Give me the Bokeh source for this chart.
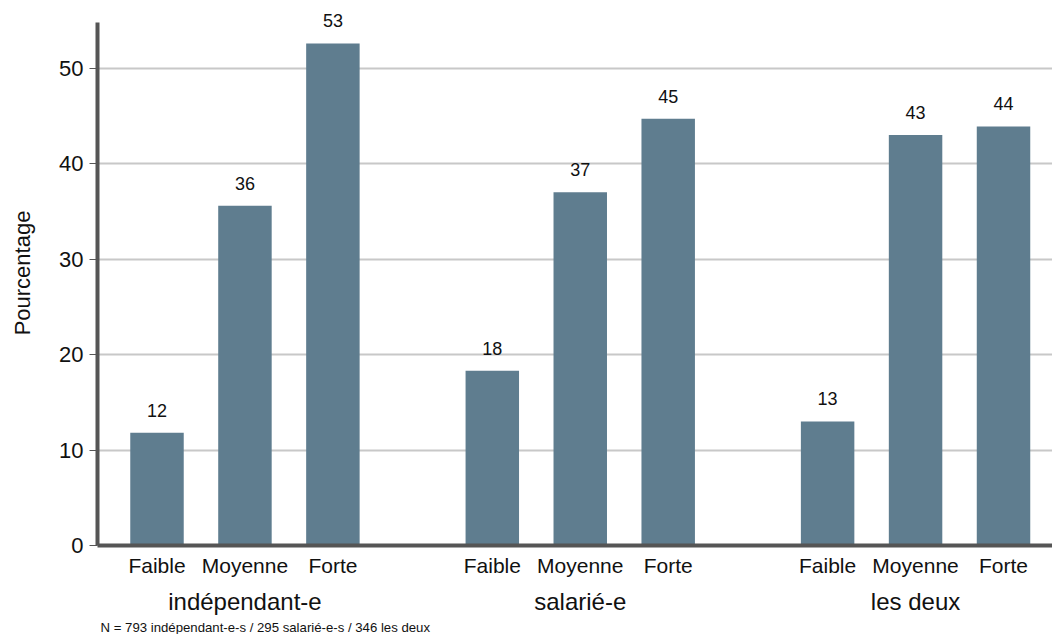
from bokeh.plotting import figure
from bokeh.models import Range1d, FixedTicker, LinearAxis, ColumnDataSource, LabelSet, Title
from bokeh.core.properties import value
from bokeh.embed import file_html
from bokeh.resources import INLINE

# Intensité (Faible / Moyenne / Forte) par statut d'activité, en pourcentage
groups = ["indépendant-e", "salarié-e", "les deux"]
levels = ["Faible", "Moyenne", "Forte"]
independant = [11.8, 35.6, 52.6]
salarie = [18.3, 37.0, 44.7]
les_deux = [13.0, 43.0, 43.9]
y_ticks = [0, 10, 20, 30, 40, 50]
y_axis_top = 54.8
note = "N = 793 indépendant-e-s / 295 salarié-e-s / 346 les deux"

FONT = "Liberation Sans"
BAR_COLOR = "#5f7d8f"
AXIS_COLOR = "#555555"
GROUP_STEP = 3.8125  # distance between the first bars of consecutive groups

series = [independant, salarie, les_deux]
xs, tops, texts = [], [], []
for gi, vals in enumerate(series):
    for li, v in enumerate(vals):
        xs.append(gi * GROUP_STEP + li)
        tops.append(v)
        texts.append(str(round(v)))
level_names = {x: levels[i % 3] for i, x in enumerate(xs)}
group_centers = [gi * GROUP_STEP + 1 for gi in range(len(groups))]
group_names = {c: g for c, g in zip(group_centers, groups)}

src = ColumnDataSource(dict(x=xs, top=tops, label=texts))

p = figure(width=1052, height=634,
           x_range=Range1d(-0.6765, 10.182), y_range=Range1d(0, 57.1),
           output_backend="svg", toolbar_location=None,
           min_border_left=97, min_border_right=0, min_border_top=0,
           min_border_bottom=87)
p.outline_line_color = None
p.background_fill_color = "white"
p.border_fill_color = "white"

p.vbar(x="x", top="top", bottom=0, width=0.608, source=src,
       fill_color=BAR_COLOR, line_color=None)

p.add_layout(LabelSet(x="x", y="top", text="label", source=src,
                      text_align="center", text_baseline="alphabetic",
                      y_offset=16, text_font=value(FONT), text_font_size="18px",
                      text_color="#111111"))

# y axis
yax = p.yaxis[0]
yax.ticker = FixedTicker(ticks=y_ticks)
yax.bounds = (0, y_axis_top)
yax.axis_line_width = 4
yax.axis_line_color = AXIS_COLOR
yax.major_tick_out = 8
yax.major_tick_in = 0
yax.major_tick_line_color = AXIS_COLOR
yax.major_tick_line_width = 1
yax.minor_tick_line_color = None
yax.major_label_standoff = 6
yax.major_label_text_font = FONT
yax.major_label_text_font_size = "22px"
yax.major_label_text_color = "#111111"
yax.axis_label = "Pourcentage"
yax.axis_label_text_font = FONT
yax.axis_label_text_font_size = "22px"
yax.axis_label_text_font_style = "normal"
yax.axis_label_text_color = "#111111"
yax.axis_label_standoff = 21

# level labels under each bar
xax = p.xaxis[0]
xax.ticker = FixedTicker(ticks=xs)
xax.major_label_overrides = level_names
xax.axis_line_width = 4
xax.axis_line_color = AXIS_COLOR
xax.major_tick_line_color = None
xax.minor_tick_line_color = None
xax.major_label_standoff = 2
xax.major_label_text_font = FONT
xax.major_label_text_font_size = "21px"
xax.major_label_text_color = "#111111"

# group labels
gax = LinearAxis(ticker=FixedTicker(ticks=group_centers),
                 major_label_overrides=group_names,
                 axis_line_color=None, major_tick_line_color=None,
                 minor_tick_line_color=None, major_label_standoff=2,
                 major_label_text_font=FONT, major_label_text_font_size="24px",
                 major_label_text_color="#111111")
p.add_layout(gax, "below")

p.add_layout(Title(text=note, align="left", offset=3, standoff=0,
                   text_font=FONT, text_font_size="13.2px",
                   text_line_height=0.8,
                   text_font_style="normal", text_color="#111111"), "below")

p.xgrid.grid_line_color = None
p.ygrid.ticker = FixedTicker(ticks=y_ticks)
p.ygrid.grid_line_color = "#c8c8c8"
p.ygrid.grid_line_width = 2

open("out.html", "w").write(file_html(p, INLINE))
